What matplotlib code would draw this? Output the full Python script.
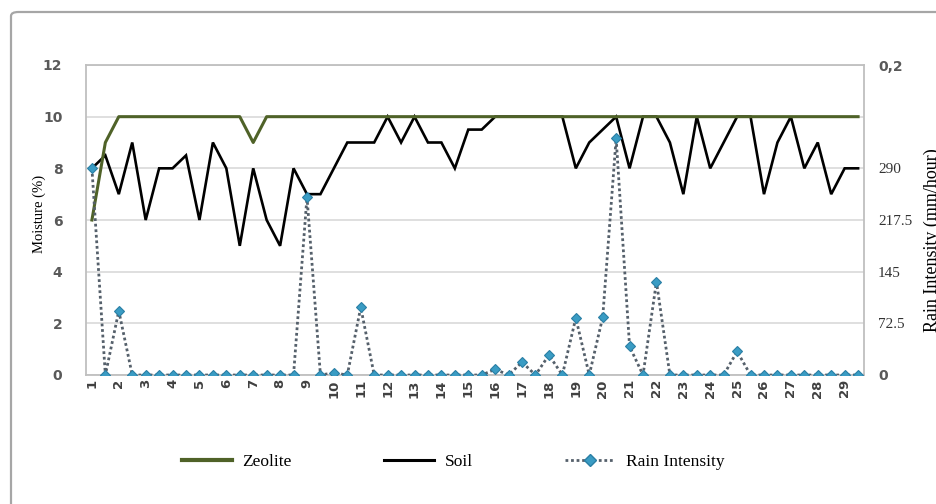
import numpy as np
import matplotlib
matplotlib.use("Agg")
import matplotlib.pyplot as plt
from matplotlib.patches import FancyBboxPatch
from matplotlib.lines import Line2D

# half-day steps, labelled 1..29 on the axis
days = np.arange(1, 30, 0.5)
day_labels = [str(d) for d in range(1, 30)]

zeolite = [6, 9] + [10] * 10 + [9] + [10] * 45

soil = [8, 8.5, 7, 9, 6, 8, 8, 8.5, 6, 9, 8, 5, 8, 6, 5, 8, 7, 7, 8, 9,
        9, 9, 10, 9, 10, 9, 9, 8, 9.5, 9.5, 10, 10, 10, 10, 10, 10, 8, 9, 9.5, 10,
        8, 10, 10, 9, 7, 10, 8, 9, 10, 10, 7, 9, 10, 8, 9, 7, 8, 8]

rain = [290, 0, 90, 0, 0, 0, 0, 0, 0, 0, 0, 0, 0, 0, 0, 0, 250, 0, 3, 0,
        95, 0, 0, 0, 0, 0, 0, 0, 0, 0, 8, 0, 18, 0, 28, 0, 80, 0, 81, 332,
        40, 0, 131, 0, 0, 0, 0, 0, 33, 0, 0, 0, 0, 0, 0, 0, 0, 0]

moist_ticks = [0, 2, 4, 6, 8, 10, 12]
rain_ticks = [0, 72.5, 145, 217.5, 290, 435]
rain_tick_labels = ["0", "72.5", "145", "217.5", "290", "0,2"]

ZEO_COLOR = "#4f6228"
RAIN_LINE = "#55606b"
RAIN_MARK = "#3a9cc4"
GRID = "#d9d9d9"
FRAME = "#bfbfbf"
TICK = "#595959"

fig = plt.figure(figsize=(9.36, 5.04), dpi=100)
fig.patch.set_facecolor("white")

# outer chart border (cut by the image edges on right and bottom)
border = FancyBboxPatch((11 / 936, -0.2), 1.2, 1.2 - 12 / 504,
                        boxstyle="round,pad=0,rounding_size=0.008",
                        transform=fig.transFigure, fill=False,
                        edgecolor="#a6a6a6", linewidth=1.6, clip_on=False)
fig.add_artist(border)

ax = fig.add_axes([86 / 936, 1 - 375 / 504, (864 - 86) / 936, (375 - 65) / 504])

ax.plot(days, soil, color="black", lw=1.9, zorder=3, solid_joinstyle="miter")
ax.plot(days, zeolite, color=ZEO_COLOR, lw=2.2, zorder=4)

ax.set_xlim(0.78, 29.72)
ax.set_ylim(0, 12)
ax.set_yticks(moist_ticks)
ax.set_yticklabels([str(t) for t in moist_ticks], color=TICK,
                   fontsize=10, fontweight="bold", family="DejaVu Sans")
ax.set_xticks(range(1, 30))
ax.set_xticklabels(day_labels, rotation=90, color="#404040",
                   fontsize=9.5, fontweight="bold")
ax.tick_params(axis="both", length=0)
ax.tick_params(axis="y", pad=17)
ax.tick_params(axis="x", pad=3)
ax.grid(axis="y", color=GRID, lw=1.2)
ax.set_axisbelow(True)
for s in ax.spines.values():
    s.set_color(FRAME)
    s.set_linewidth(1.3)

ax2 = ax.twinx()
ax2.plot(days, rain, color=RAIN_LINE, lw=2, linestyle=(0, (1, 1)),
         marker="D", markersize=5.5, markerfacecolor=RAIN_MARK,
         markeredgecolor="#2a7fa5", markeredgewidth=0.8, zorder=5)
ax2.set_ylim(0, 435)
ax2.set_yticks(rain_ticks)
ax2.set_yticklabels(rain_tick_labels)
ax2.tick_params(axis="y", length=0, pad=10)
for lbl in ax2.get_yticklabels():
    if lbl.get_text() in ("0", "0,2"):
        lbl.set_family("DejaVu Sans")
        lbl.set_fontweight("bold")
        lbl.set_color(TICK)
        lbl.set_fontsize(10)
    else:
        lbl.set_family("Liberation Serif")
        lbl.set_color("#333333")
        lbl.set_fontsize(11)
for s in ax2.spines.values():
    s.set_visible(False)

fig.text(39 / 936, 1 - 214 / 504, "Moisture (%)", rotation=90,
         ha="center", va="center", family="Liberation Serif", fontsize=10.5)
# the reference image cuts this label at its right edge
fig.text(932 / 936, 1 - 240 / 504, "Rain Intensity (mm/hour)", rotation=90,
         ha="center", va="center", family="Liberation Serif", fontsize=13)

handles = [
    Line2D([], [], color=ZEO_COLOR, lw=3),
    Line2D([], [], color="black", lw=2.2),
    Line2D([], [], color=RAIN_LINE, lw=2, linestyle=(0, (1, 1)), marker="D",
           markersize=6, markerfacecolor=RAIN_MARK, markeredgecolor="#2a7fa5"),
]
fig.legend(handles, ["Zeolite", "Soil", "Rain Intensity"], ncol=3,
           loc="center", bbox_to_anchor=(453 / 936, 1 - 462 / 504),
           frameon=False, handlelength=2.9, handletextpad=0.6,
           columnspacing=5.3, prop={"family": "Liberation Serif", "size": 12.5})

fig.savefig("out.png", dpi=100)
